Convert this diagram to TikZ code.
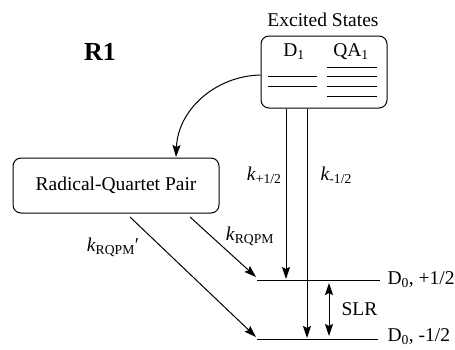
\documentclass[tikz,border=0pt]{standalone}
\usepackage{fontspec}
\setmainfont{Liberation Serif}
\usetikzlibrary{arrows.meta}
\newcommand\krate[1]{\textit{k}\textsubscript{#1}}
\begin{document}
\begin{tikzpicture}[x=1pt,y=-1pt, line width=1pt,
  txt/.style={font=\fontsize{19.5}{22}\selectfont, inner sep=0pt},
  box/.style={draw, rounded corners=8pt, inner sep=0pt},
  arr/.style={-{Stealth[length=12pt,width=8pt,inset=2pt]}},
  darr/.style={{Stealth[length=12pt,width=8pt,inset=2pt]}-{Stealth[length=12pt,width=8pt,inset=2pt]}}]
\useasboundingbox (0,0) rectangle (455,349);

\node[font=\fontsize{26}{28}\selectfont\bfseries, inner sep=0pt] (r1) at (100,52) {R1};

% Excited states box
\node[txt] (ext) at (323,20) {Excited States};
\node[box, minimum width=126pt, minimum height=72pt] (ex) at (324,72) {};
\node[txt] (d1) at (294,52) {D\textsubscript{1}};
\node[txt] (qa1) at (351,52) {QA\textsubscript{1}};
\draw (268,76) -- (317,76);
\draw (268,86) -- (317,86);
\draw (327,67) -- (377,67);
\draw (327,76) -- (377,76);
\draw (327,86) -- (377,86);
\draw (327,96) -- (377,96);

% Radical-quartet pair box
\node[box, txt, minimum width=206pt, minimum height=55pt] (rqp) at (116,185.5) {Radical-Quartet Pair};

% D0 levels
\coordinate (u1) at (257,280);
\coordinate (u2) at (380,280);
\coordinate (l1) at (257,339);
\coordinate (l2) at (378,339);
\draw (u1) -- (u2);
\draw (l1) -- (l2);
\node[txt, anchor=west] (dp) at (387,280) {D\textsubscript{0}, +1/2};
\node[txt, anchor=west] (dm) at (387,336.5) {D\textsubscript{0}, -1/2};

% curved arrow
\coordinate (c1) at (176,157);
\draw[arr] ([yshift=-3pt]ex.west) .. controls (215,76) and (178,110) .. (c1);

% vertical arrows
\coordinate (a1) at (286,279);
\coordinate (a2) at (307,338);
\draw[arr] (ex.south -| a1) -- (a1);
\draw[arr] (ex.south -| a2) -- (a2);
\node[txt, anchor=east] (kp) at (282,175) {\krate{+1/2}};
\node[txt, anchor=west] (km) at (320,175) {\krate{-1/2}};

% SLR
\coordinate (s1) at (329,283);
\coordinate (s2) at (329,336);
\draw[darr] (s1) -- (s2);
\node[txt, anchor=west] (slr) at (341,309) {SLR};

% RQP arrows
\coordinate (r1a) at (190,217);
\coordinate (r1b) at (256,277);
\coordinate (r2a) at (130,217);
\coordinate (r2b) at (256,337);
\draw[arr] (r1a) -- (r1b);
\draw[arr] (r2a) -- (r2b);
\node[txt] (kr) at (250,236) {\krate{RQPM}};
\node[txt] (krp) at (113,247) {\krate{RQPM}′};
\end{tikzpicture}
\end{document}
